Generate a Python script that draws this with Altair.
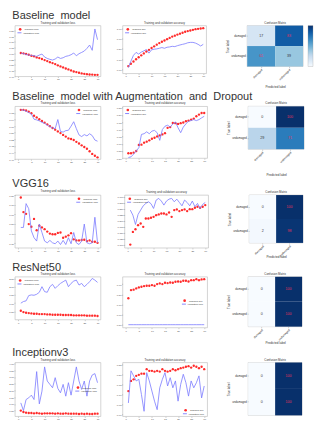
import altair as alt
import numpy as np
import pandas as pd

FONT = "Liberation Sans"
EPOCHS = list(range(1, 31))
X_TICKS = [0, 5, 10, 15, 20, 25, 30]
X_DOMAIN = [-1.2, 31.2]
CLASSES = ["damaged", "undamaged"]
LOSS_LABELS = ["Training loss", "Validation loss"]
ACC_LABELS = ["Training acc", "Validation acc"]
ROW_TITLES = [
    "Baseline \u00a0model",
    "Baseline \u00a0model with Augmentation \u00a0and \u00a0Dropout",
    "VGG16",
    "ResNet50",
    "Inceptionv3",
]

# ---------------- Baseline model ----------------
BASE_LOSS = [0.603, 0.600, 0.594, 0.588, 0.579, 0.574, 0.565, 0.559, 0.551, 0.542,
             0.533, 0.524, 0.516, 0.507, 0.496, 0.487, 0.478, 0.469, 0.461, 0.452,
             0.443, 0.438, 0.432, 0.426, 0.423, 0.420, 0.417, 0.416, 0.414, 0.414]
BASE_VAL_LOSS = [0.603, 0.597, 0.591, 0.585, 0.582, 0.579, 0.574, 0.585, 0.594, 0.568,
                 0.556, 0.548, 0.542, 0.551, 0.568, 0.556, 0.562, 0.574, 0.579, 0.588,
                 0.603, 0.579, 0.597, 0.608, 0.620, 0.643, 0.672, 0.626, 0.811, 0.718]
BASE_ACC = [0.634, 0.656, 0.678, 0.700, 0.719, 0.738, 0.756, 0.775, 0.791, 0.809,
            0.825, 0.841, 0.856, 0.869, 0.881, 0.894, 0.906, 0.919, 0.928, 0.938,
            0.947, 0.956, 0.966, 0.972, 0.978, 0.984, 0.991, 0.994, 0.997, 1.000]
BASE_VAL_ACC = [0.619, 0.681, 0.738, 0.766, 0.750, 0.769, 0.781, 0.794, 0.759, 0.791,
                0.797, 0.800, 0.806, 0.813, 0.806, 0.816, 0.819, 0.825, 0.822, 0.831,
                0.838, 0.844, 0.850, 0.859, 0.863, 0.863, 0.856, 0.844, 0.828, 0.844]
BASE_CM = [[17, 83], [61, 39]]

# ---------------- Augmentation + Dropout ----------------
AUG_LOSS = [0.699, 0.699, 0.695, 0.688, 0.678, 0.663, 0.653, 0.642, 0.632, 0.621,
            0.611, 0.600, 0.589, 0.579, 0.568, 0.558, 0.547, 0.537, 0.526, 0.522,
            0.516, 0.505, 0.495, 0.484, 0.474, 0.463, 0.448, 0.432, 0.421, 0.411]
AUG_VAL_LOSS = [0.699, 0.697, 0.691, 0.682, 0.674, 0.642, 0.638, 0.632, 0.623, 0.617,
                0.606, 0.598, 0.589, 0.585, 0.640, 0.568, 0.564, 0.573, 0.575, 0.600,
                0.627, 0.585, 0.547, 0.537, 0.549, 0.541, 0.554, 0.543, 0.516, 0.509]
AUG_ACC = [0.534, 0.534, 0.539, 0.550, 0.592, 0.594, 0.608, 0.615, 0.624, 0.635,
           0.642, 0.651, 0.658, 0.665, 0.674, 0.711, 0.716, 0.745, 0.743, 0.738,
           0.743, 0.748, 0.757, 0.761, 0.768, 0.775, 0.791, 0.803, 0.814, 0.814]
AUG_VAL_ACC = [0.505, 0.509, 0.528, 0.550, 0.573, 0.665, 0.670, 0.683, 0.670, 0.688,
               0.693, 0.677, 0.624, 0.699, 0.722, 0.729, 0.716, 0.738, 0.752, 0.711,
               0.677, 0.716, 0.738, 0.757, 0.761, 0.768, 0.761, 0.768, 0.780, 0.791]
AUG_CM = [[0, 100], [29, 71]]

# ---------------- VGG16 ----------------
VGG_LOSS = [0.775, 0.623, 0.605, 0.498, 0.470, 0.552, 0.434, 0.481, 0.463, 0.445,
            0.420, 0.399, 0.392, 0.392, 0.406, 0.410, 0.356, 0.367, 0.381, 0.403,
            0.339, 0.328, 0.328, 0.332, 0.335, 0.321, 0.328, 0.314, 0.314, 0.303]
VGG_VAL_LOSS = [0.463, 0.463, 0.711, 0.658, 0.427, 0.356, 0.321, 0.498, 0.410, 0.321,
                0.303, 0.328, 0.303, 0.293, 0.321, 0.285, 0.328, 0.285, 0.356, 0.293,
                0.410, 0.303, 0.285, 0.321, 0.498, 0.303, 0.293, 0.303, 0.569, 0.303]
VGG_ACC = [0.700, 0.753, 0.764, 0.781, 0.788, 0.774, 0.809, 0.809, 0.812, 0.816,
           0.823, 0.826, 0.830, 0.830, 0.826, 0.834, 0.816, 0.844, 0.847, 0.840,
           0.844, 0.847, 0.840, 0.848, 0.848, 0.854, 0.858, 0.854, 0.858, 0.865]
VGG_VAL_ACC = [0.844, 0.823, 0.784, 0.826, 0.844, 0.862, 0.872, 0.879, 0.871, 0.851,
               0.886, 0.893, 0.882, 0.865, 0.882, 0.890, 0.893, 0.879, 0.890, 0.876,
               0.862, 0.886, 0.876, 0.862, 0.882, 0.858, 0.872, 0.851, 0.868, 0.876]
VGG_CM = [[0, 100], [2, 98]]

# ---------------- ResNet50 ----------------
RES_LOSS = [0.54, 0.46, 0.42, 0.40, 0.38, 0.36, 0.36, 0.34, 0.34, 0.34,
            0.32, 0.32, 0.30, 0.30, 0.30, 0.30, 0.28, 0.28, 0.28, 0.28,
            0.26, 0.26, 0.26, 0.26, 0.26, 0.24, 0.24, 0.24, 0.24, 0.22]
RES_VAL_LOSS = [1.00, 1.10, 1.14, 1.46, 1.50, 1.48, 1.54, 1.66, 2.00, 1.70,
                1.66, 2.00, 2.14, 1.90, 2.06, 2.20, 2.30, 2.40, 2.00, 2.20,
                2.34, 2.40, 2.10, 2.20, 2.00, 2.14, 2.30, 2.50, 2.40, 2.26]
RES_ACC = [0.761, 0.842, 0.846, 0.858, 0.868, 0.875, 0.881, 0.885, 0.885, 0.891,
           0.885, 0.901, 0.908, 0.901, 0.914, 0.911, 0.917, 0.914, 0.924, 0.927,
           0.924, 0.934, 0.934, 0.927, 0.940, 0.940, 0.950, 0.940, 0.947, 0.950]
RES_VAL_ACC = [0.500, 0.500, 0.500, 0.500, 0.500, 0.500, 0.500, 0.500, 0.500, 0.500,
               0.500, 0.500, 0.500, 0.500, 0.500, 0.500, 0.500, 0.500, 0.500, 0.500,
               0.500, 0.500, 0.500, 0.500, 0.500, 0.500, 0.500, 0.500, 0.500, 0.500]
RES_CM = [[0, 100], [0, 100]]

# ---------------- Inceptionv3 ----------------
INC_LOSS = [0.50, 0.40, 0.35, 0.325, 0.325, 0.30, 0.325, 0.30, 0.275, 0.30,
            0.30, 0.30, 0.30, 0.275, 0.30, 0.275, 0.275, 0.30, 0.275, 0.275,
            0.275, 0.275, 0.25, 0.275, 0.25, 0.275, 0.25, 0.25, 0.275, 0.275]
INC_VAL_LOSS = [1.075, 0.50, 1.325, 1.45, 1.65, 1.325, 3.40, 1.00, 1.95, 3.75,
                2.70, 2.45, 2.20, 2.95, 2.15, 1.825, 2.45, 1.575, 2.575, 1.65,
                2.70, 3.75, 2.70, 2.075, 2.70, 1.575, 2.70, 3.15, 3.25, 2.575]
INC_ACC = [0.717, 0.767, 0.775, 0.792, 0.797, 0.803, 0.803, 0.825, 0.817, 0.817,
           0.813, 0.817, 0.813, 0.825, 0.817, 0.813, 0.817, 0.825, 0.820, 0.825,
           0.830, 0.833, 0.837, 0.840, 0.833, 0.842, 0.837, 0.830, 0.837, 0.825]
INC_VAL_ACC = [0.658, 0.817, 0.792, 0.767, 0.775, 0.700, 0.617, 0.808, 0.767, 0.717,
               0.667, 0.625, 0.733, 0.775, 0.808, 0.742, 0.783, 0.733, 0.767, 0.667,
               0.750, 0.800, 0.758, 0.692, 0.767, 0.733, 0.758, 0.792, 0.683, 0.742]
INC_CM = [[0, 100], [0, 100]]

# axis tick values per panel
LOSS_TICKS = [
    [0.40, 0.45, 0.50, 0.55, 0.60, 0.65, 0.70, 0.75, 0.80],
    [0.40, 0.44, 0.48, 0.52, 0.56, 0.60, 0.64, 0.68],
    [0.30, 0.40, 0.50, 0.60, 0.70, 0.80],
    [0.50, 1.00, 1.50, 2.00, 2.50],
    [0.50, 1.00, 1.50, 2.00, 2.50, 3.00, 3.50, 4.00],
]
ACC_TICKS = [
    [0.60, 0.70, 0.80, 0.90, 1.00],
    [0.50, 0.55, 0.60, 0.65, 0.70, 0.75, 0.80, 0.85],
    [0.700, 0.725, 0.750, 0.775, 0.800, 0.825, 0.850, 0.875, 0.900],
    [0.50, 0.60, 0.70, 0.80, 0.90],
    [0.60, 0.65, 0.70, 0.75, 0.80, 0.85],
]

# ---------------- styling / layout (not data) ----------------
RED = "#ff2b2b"
BLUE = "#7b7bff"
TXT_DARK = "#e0325a"
BLUES = ["#f7fbff", "#deebf7", "#c6dbef", "#9ecae1", "#6baed6",
         "#4292c6", "#2171b5", "#08519c", "#08306b"]

LOSS_DOM = [[0.40, 0.84], [0.40, 0.72], [0.25, 0.80], [0.0, 2.6], [0.075, 4.075]]
ACC_DOM = [[0.5625, 1.025], [0.50, 0.86], [0.686, 0.907], [0.471, 0.973], [0.592, 0.858]]
LOSS_FMT = [".2f", ".2f", ".2f", ".2f", ".2f"]
ACC_FMT = [".2f", ".2f", ".3f", ".2f", ".2f"]
LOSS_SIZE = [(86, 51), (86, 53), (86, 53), (86, 43), (86, 54)]
ACC_SIZE = [(84, 48), (85, 52), (84, 53), (85, 51), (85, 54)]
CM_SIZE = [(56, 41), (56, 43), (54, 48), (54, 50), (54, 53)]
LOSS_LEG = ["tl", "tr", "tr", "tl", "cr"]
ACC_LEG = ["tl", "tl", "tl", "cr", "br"]
CM_TPAD = [4.5, 10, -1.5, 0.5, 0]
ROW_OFFSET = [0.5, 0.5, 0.5, 0, 0.5]
CM_GAP = [18, 18, 18, 18, 18]

AX = dict(title=None, grid=False, domain=False, labelFontSize=2.5, labelColor="#555",
          labelFont=FONT, tickSize=1.0, tickWidth=0.4, tickColor="#777",
          labelPadding=0.5, labelFlush=False, labelOverlap=False)


def legend_xy(kind, w, h):
    if kind == "tl":
        return 2.0, 1.2
    if kind == "tr":
        return w - 25.0, 1.2
    if kind == "br":
        return w - 25.0, h - 8.6
    return w - 26.0, h * 0.42


def curve_panel(train, val, labels, title, ydom, yticks, yfmt, size, leg):
    df_t = pd.DataFrame({"epoch": EPOCHS, "value": train, "series": labels[0]})
    df_v = pd.DataFrame({"epoch": EPOCHS, "value": val, "series": labels[1]})
    xenc = alt.X("epoch:Q", scale=alt.Scale(domain=X_DOMAIN, nice=False, zero=False),
                 axis=alt.Axis(values=X_TICKS, format="d", **AX))
    yenc = alt.Y("value:Q", scale=alt.Scale(domain=ydom, nice=False, zero=False),
                 axis=alt.Axis(values=yticks, format=yfmt, **AX))
    lx, ly = legend_xy(leg, size[0], size[1])
    common = dict(title=None, orient="none", padding=0, labelFontSize=2.5,
                  labelColor="#333", labelFont=FONT, labelLimit=0)
    leg_t = alt.Legend(legendX=lx + 0.7, legendY=ly, symbolSize=7, labelOffset=1.85, **common)
    leg_v = alt.Legend(legendX=lx, legendY=ly + 3.5, symbolSize=16, labelOffset=1.2,
                       symbolStrokeWidth=0.9, **common)
    pts = alt.Chart(df_t).mark_point(filled=True, size=5.5, opacity=1).encode(
        x=xenc, y=yenc,
        color=alt.Color("series:N", scale=alt.Scale(domain=[labels[0]], range=[RED]),
                        legend=leg_t))
    line = alt.Chart(df_v).mark_line(strokeWidth=0.8).encode(
        x=xenc, y=yenc,
        color=alt.Color("series:N", scale=alt.Scale(domain=[labels[1]], range=[BLUE]),
                        legend=leg_v))
    return alt.layer(pts, line).resolve_scale(color="independent").properties(
        width=size[0], height=size[1],
        title=alt.TitleParams(title, fontSize=2.9, offset=1, color="#333", font=FONT,
                              fontWeight="normal"))


def cm_panel(matrix, size, show_x, tpad):
    recs = []
    for i, t in enumerate(CLASSES):
        for j, p in enumerate(CLASSES):
            recs.append({"true": t, "pred": p, "n": matrix[i][j]})
    df = pd.DataFrame(recs)
    lo = min(min(r) for r in matrix)
    hi = max(max(r) for r in matrix)
    thr = (lo + hi) / 2
    dom = [float(v) for v in np.linspace(lo, hi, len(BLUES))]
    if show_x:
        xax = alt.Axis(title="Predicted label", labelAngle=315, labelAlign="right",
                       labelBaseline="top", labelFontSize=2.8, labelColor="#333",
                       titleFontSize=3.1, titleFontWeight="normal", titleColor="#333",
                       titleFont=FONT, labelFont=FONT, titlePadding=tpad, tickSize=1.2,
                       tickWidth=0.4, domain=False, labelPadding=0.6)
    else:
        xax = alt.Axis(title=None, labels=False, ticks=False, domain=False)
    yax = alt.Axis(title="True label", titleFontSize=3.1, titleFontWeight="normal",
                   titleColor="#333", titleFont=FONT, labelFont=FONT, titlePadding=1.5,
                   labelFontSize=2.8, labelColor="#333", tickSize=1.2, tickWidth=0.4,
                   domain=False, labelPadding=0.6)
    band = alt.Scale(paddingInner=0, paddingOuter=0)
    xenc = alt.X("pred:N", sort=CLASSES, axis=xax, scale=band)
    yenc = alt.Y("true:N", sort=CLASSES, axis=yax, scale=band)
    rect = alt.Chart(df).mark_rect().encode(
        x=xenc, y=yenc,
        color=alt.Color("n:Q", scale=alt.Scale(domain=dom, range=BLUES),
                        legend=alt.Legend(title=None, orient="right", offset=3,
                                          gradientLength=size[1], gradientThickness=5,
                                          labelExpr="''", labelOffset=0, labelFontSize=1,
                                          padding=0, gradientStrokeWidth=0.3,
                                          gradientStrokeColor="#999")))
    text = alt.Chart(df).mark_text(fontSize=3.6, font=FONT).encode(
        x=xenc, y=yenc, text="n:Q",
        color=alt.condition(alt.datum.n > thr, alt.value(TXT_DARK), alt.value("#333333")))
    return alt.layer(rect, text).properties(
        width=alt.Step(size[0] / 2), height=alt.Step(size[1] / 2),
        title=alt.TitleParams("Confusion Matrix", fontSize=2.9, offset=1, color="#333",
                              font=FONT, fontWeight="normal"),
        view=alt.ViewBackground(stroke="#999999", strokeWidth=0.4))


DATA = [
    (BASE_LOSS, BASE_VAL_LOSS, BASE_ACC, BASE_VAL_ACC, BASE_CM),
    (AUG_LOSS, AUG_VAL_LOSS, AUG_ACC, AUG_VAL_ACC, AUG_CM),
    (VGG_LOSS, VGG_VAL_LOSS, VGG_ACC, VGG_VAL_ACC, VGG_CM),
    (RES_LOSS, RES_VAL_LOSS, RES_ACC, RES_VAL_ACC, RES_CM),
    (INC_LOSS, INC_VAL_LOSS, INC_ACC, INC_VAL_ACC, INC_CM),
]

rows = []
for k, (tl, vl, ta, va, cm) in enumerate(DATA):
    loss = curve_panel(tl, vl, LOSS_LABELS, "Training and validation loss", LOSS_DOM[k],
                       LOSS_TICKS[k], LOSS_FMT[k], LOSS_SIZE[k], LOSS_LEG[k])
    acc = curve_panel(ta, va, ACC_LABELS, "Training and validation accuracy", ACC_DOM[k],
                      ACC_TICKS[k], ACC_FMT[k], ACC_SIZE[k], ACC_LEG[k])
    conf = cm_panel(cm, CM_SIZE[k], k < 4, CM_TPAD[k])
    curves = alt.hconcat(loss, acc, spacing=14)
    rows.append(alt.hconcat(
        curves, conf, spacing=CM_GAP[k],
        title=alt.TitleParams(ROW_TITLES[k], anchor="start", fontSize=11, font=FONT,
                              fontWeight="normal", color="#333", offset=ROW_OFFSET[k], dx=4)))

chart = alt.vconcat(*rows, spacing=1).properties(
    padding={"left": 0, "top": 1, "right": 0, "bottom": 0},
    background="white",
).configure_view(stroke="#b8b8b8", strokeWidth=0.6)

chart.save("out.html", embed_options={"renderer": "svg", "actions": False})
